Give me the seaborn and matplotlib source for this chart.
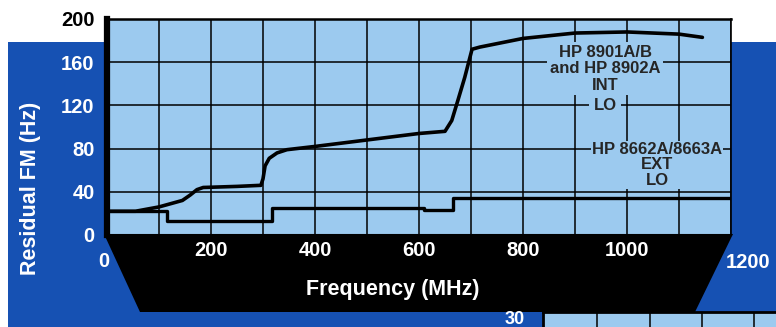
import numpy as np
import pandas as pd
import seaborn as sns
import matplotlib.pyplot as plt
from matplotlib.patches import Rectangle, Polygon

# Residual FM vs frequency
int_freq = [0, 55, 100, 145, 160, 173, 185, 250, 296, 300, 304, 312, 327, 346, 400,
            500, 600, 650, 663, 675, 688, 702, 717, 800, 900, 1000, 1100, 1145]
int_fm = [22, 22, 26, 32, 37, 42, 44, 45, 46, 52, 64, 71, 76, 79, 82,
          88, 94, 96, 106, 125, 146, 172, 174, 182, 187, 188, 186, 183]

ext_freq = [0, 115, 115, 317, 317, 610, 610, 665, 665, 1200]
ext_fm = [22, 22, 13, 13, 25, 25, 23, 23, 34, 34]

x_ticks = [0, 100, 200, 300, 400, 500, 600, 700, 800, 900, 1000, 1100, 1200]
x_labels = ['', '', '200', '', '400', '', '600', '', '800', '', '1000', '', '']
y_ticks = [0, 40, 80, 120, 160, 200]

label_int = 'HP 8901A/B\nand HP 8902A\nINT'
label_int_lo = 'LO'
label_ext = 'HP 8662A/8663A\nEXT\nLO'

LIGHT = '#9ccaef'
DARK = '#1651b3'

sns.set_style('white')
plt.rcParams['font.family'] = ['Liberation Sans', 'DejaVu Sans']
plt.rcParams['font.weight'] = 'bold'

W, H = 776, 327
fig = plt.figure(figsize=(W / 100, H / 100), dpi=100)
fig.patch.set_facecolor('white')

def fx(x):
    return x / W

def fy(y):
    return 1 - y / H

# background: blue block and black trapezoid behind the axes
fig.patches.append(Rectangle((fx(8), 0), 1 - fx(8), fy(42), transform=fig.transFigure,
                             facecolor=DARK, edgecolor='none', zorder=-2))
trap = [(fx(104), fy(234)), (fx(733), fy(234)), (fx(695), fy(312)), (fx(140), fy(312))]
fig.patches.append(Polygon(trap, closed=True, transform=fig.transFigure,
                           facecolor='black', edgecolor='none', zorder=-1))

ax = fig.add_axes([fx(107), fy(235), fx(731) - fx(107), fy(19) - fy(235)])
ax.set_facecolor(LIGHT)

df_int = pd.DataFrame({'freq': int_freq, 'fm': int_fm})
df_ext = pd.DataFrame({'freq': ext_freq, 'fm': ext_fm})
sns.lineplot(data=df_int, x='freq', y='fm', ax=ax, color='black', lw=2.6,
             estimator=None, sort=False, zorder=5)
sns.lineplot(data=df_ext, x='freq', y='fm', ax=ax, color='black', lw=2.4,
             estimator=None, sort=False, zorder=5)

ax.set_xlim(0, 1200)
ax.set_ylim(0, 200)
ax.set_xticks(x_ticks)
ax.set_xticklabels(x_labels)
ax.set_yticks(y_ticks)
ax.set_yticklabels([str(v) for v in y_ticks])
ax.set_xlabel('')
ax.set_ylabel('')
ax.set_axisbelow(True)
ax.grid(True, color='black', lw=1.1)
ax.tick_params(axis='x', length=0, pad=4, labelsize=14.5, labelcolor='white')
ax.tick_params(axis='y', length=0, pad=9, labelsize=14.5, labelcolor='white')
ax.get_yticklabels()[-1].set_color('black')

for side in ['top', 'right', 'left', 'bottom']:
    ax.spines[side].set_visible(True)
    ax.spines[side].set_color('black')
ax.spines['left'].set_linewidth(4.5)
ax.spines['top'].set_linewidth(1.8)
ax.spines['right'].set_linewidth(1.2)
ax.spines['bottom'].set_linewidth(1.5)

# end labels of the x axis sit off the tick positions
ax.annotate('0', xy=(0, 0), xytext=(-2, -19), textcoords='offset points',
            ha='center', va='center', color='white', fontsize=14.5, annotation_clip=False)
ax.annotate('1200', xy=(1200, 0), xytext=(12, -19.5), textcoords='offset points',
            ha='center', va='center', color='white', fontsize=14.5, annotation_clip=False)

box = dict(facecolor=LIGHT, edgecolor='none', pad=2)
ax.text(958, 154, label_int, ha='center', va='center', fontsize=12,
        linespacing=1.12, bbox=box, zorder=3)
ax.text(958, 120, label_int_lo, ha='center', va='center', fontsize=12,
        bbox=dict(facecolor=LIGHT, edgecolor='none', pad=3), zorder=3)
ax.text(1058, 65, label_ext, ha='center', va='center', fontsize=12,
        linespacing=1.05, bbox=dict(facecolor=LIGHT, edgecolor='none', pad=0.5), zorder=3)

fig.text(fx(31), fy(188), 'Residual FM (Hz)', rotation=90, ha='center', va='center',
         color='white', fontsize=15.5)
fig.text(fx(393), fy(290), 'Frequency (MHz)', ha='center', va='center',
         color='white', fontsize=15.5)

# top edge of the next chart on the page
ax2 = fig.add_axes([fx(543), 0, 1 - fx(543), fy(312)])
ax2.set_facecolor(LIGHT)
ax2.set_xlim(-0.03, 4.41)
ax2.set_ylim(0, 50)
ax2.set_xticks([1, 2, 3, 4])
ax2.set_xticklabels([])
ax2.set_yticks([30])
ax2.set_yticklabels(['30'])
ax2.tick_params(length=0, pad=13, labelsize=13, labelcolor='white')
ax2.grid(True, axis='x', color='black', lw=1.1)
for side in ['top', 'left']:
    ax2.spines[side].set_color('black')
    ax2.spines[side].set_linewidth(2)
for side in ['right', 'bottom']:
    ax2.spines[side].set_visible(False)

fig.savefig('out.png', dpi=100)
